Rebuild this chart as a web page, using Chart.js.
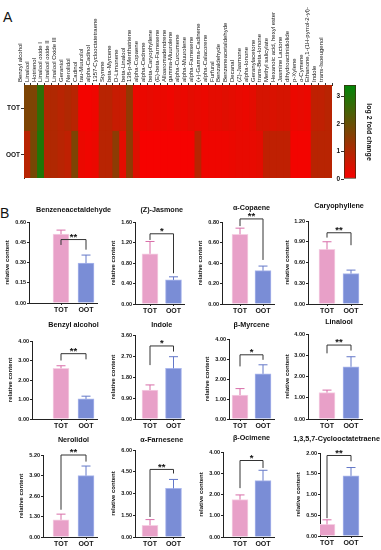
<!DOCTYPE html>
<html lang="en">
<head>
<meta charset="UTF-8">
<title>Volatiles TOT vs OOT</title>
<style>
  body { margin: 0; background: #fff; font-family: Arial, "Liberation Sans", sans-serif; }
  #wrap { position: relative; width: 381px; height: 550px; overflow: hidden; }
  .box { position: absolute; }
  .panel { position: absolute; font-size: 14px; color: #111; line-height: 14px; }
</style>
</head>
<body>
<div id="wrap">
  <div class="panel" style="left:3px;top:10px">A</div>
  <div class="panel" style="left:0px;top:206px">B</div>
  <div class="box" style="left:0;top:0;width:340px;height:186px"><canvas id="heat"></canvas></div>
  <div class="box" style="left:330px;top:70px;width:51px;height:122px"><canvas id="scale"></canvas></div>
</div>
<script src="https://cdn.jsdelivr.net/npm/chart.js"></script>
<script>
// heatmap: log2 fold change per compound
const compounds = ["Benzyl alcohol","Linalool","Hotrienol","Linalool oxide I","Linalool oxide II","Linalool Oxide III",
  "Geraniol","Nerolidol","Cadinol","tau-Muurolol","alpha-Cadinol","1357-Cyclooctatetraene","Styrene","beta-Myrcene",
  "D-Limonene","beta-Linalool","138-p-Menthatriene","alpha-Copaene","alpha-Cedrene","beta-Caryophyllene",
  "(E)-beta-Farnesene","Alloaromadendrene","gamma-Muurolene","alpha-Curcumene","alpha-Muurolene","alpha-Farnesene",
  "(+)-Gamma-Cadinene","alpha-Calacorene","Furfural","Benzaldehyde","Benzeneacetaldehyde","Decanal","(Z)-Jasmone",
  "alpha-Ionone","Geranylacetone","trans-Beta-Ionone","Methyl salicylate","Hexanoic acid, hexyl ester",
  "Jasmine Lactone","dihydroactinidiolide","p-Xylene","o-Cymene","Ethanone,1-(1H-pyrrol-2-yl)-","Indole","trans-Isoeugenol"];
const totFold = [1.7,1.7,2.8,1.0,1.0,0.9,1.0,0.9,0.1,0.1,0.15,0.9,0.9,0.7,0.7,1.4,0.2,0.2,0.25,0.2,0.2,0.15,0.25,0.2,0.3,
  0.25,0.2,0.3,0.3,0.35,0.3,0.25,0.2,0.3,0.5,0.5,0.45,0.5,0.5,0.2,0.25,0.2,0.8,0.8,0.9];
const ootFold = [0.9,1.8,3.0,1.0,1.0,0.9,0.8,1.7,0.2,0.15,0.2,0.9,0.9,1.5,0.3,1.5,0.4,0.05,0.05,0.05,0.05,0.05,0.05,0.05,0.05,
  0.9,0.15,0.15,0.15,0.15,0.2,0.25,0.25,0.25,0.3,0.8,0.8,0.8,0.8,0.1,0.1,0.1,0.9,0.9,0.9];
const rows = ['OOT', 'TOT'];
const foldTicks = [0, 1, 2, 3];
const foldMax = 3.4;

// panel B
const groups = ['TOT', 'OOT'];
const titles = ['Benzeneacetaldehyde','(Z)-Jasmone','α-Copaene','Caryophyllene','Benzyl alcohol','Indole',
  'β-Myrcene','Linalool','Nerolidol','α-Farnesene','β-Ocimene','1,3,5,7-Cyclooctatetraene'];
const yMax     = [0.6, 1.6, 0.8, 1.2, 4, 3.6, 4, 4, 5.2, 6, 4, 2];
const totMean  = [0.51, 0.98, 0.68, 0.79, 2.6, 1.24, 1.2, 1.24, 1.09, 0.81, 1.76, 0.28];
const totUpper = [0.54, 1.22, 0.74, 0.90, 2.73, 1.46, 1.52, 1.36, 1.45, 1.2, 1.98, 0.39];
const ootMean  = [0.295, 0.47, 0.325, 0.44, 1.03, 2.17, 2.26, 2.46, 3.89, 3.35, 2.65, 1.45];
const ootUpper = [0.355, 0.53, 0.37, 0.49, 1.17, 2.67, 2.71, 2.93, 4.5, 3.97, 3.14, 1.65];
const bracket  = [0.47, 1.37, 0.83, 1.03, 3.35, 3.13, 3.21, 3.48, 5.2, 4.66, 3.6, 1.94];
const legLeft  = [0.43, 1.25, 0.76, 0.96, 3.0, 2.31, 2.63, 3.09, 1.73, 1.38, 2.3, 0.43];
const legRight = [0.395, 0.6, 0.43, 0.85, 3.06, 2.89, 2.96, 3.22, 4.78, 4.38, 3.25, 1.8];
const stars    = ['**','*','**','**','**','*','*','**','**','**','*','**'];

const FONT = 'Arial, "Liberation Sans", sans-serif';
Chart.defaults.font.family = FONT;
Chart.defaults.color = '#111';

function foldColor(v) {
  const t = Math.max(0, Math.min(1, v / foldMax));
  return 'rgb(' + Math.round(250 * (1 - t)) + ',' + Math.round(135 * t) + ',' + Math.round(8 * t) + ')';
}

new Chart(document.getElementById('heat'), {
  type: 'bar',
  data: {
    labels: compounds,
    datasets: [
      { label: 'OOT', data: ootFold.map(() => 1), backgroundColor: ootFold.map(foldColor) },
      { label: 'TOT', data: totFold.map(() => 1), backgroundColor: totFold.map(foldColor) }
    ]
  },
  options: {
    responsive: true, maintainAspectRatio: false, animation: false,
    layout: { padding: { right: 8, bottom: 8 } },
    datasets: { bar: { barPercentage: 1, categoryPercentage: 1, borderWidth: 0, inflateAmount: 0.6 } },
    plugins: { legend: { display: false }, tooltip: { enabled: false } },
    scales: {
      x: {
        position: 'top', stacked: true,
        grid: { drawOnChartArea: false, tickLength: 2, color: '#333' },
        border: { color: '#4a2a10' },
        ticks: { autoSkip: false, minRotation: 90, maxRotation: 90, padding: 1, font: { size: 6 } },
        afterFit: s => { s.height = 85; }
      },
      y: {
        stacked: true, min: 0, max: 2,
        grid: { drawOnChartArea: false, tickLength: 3, color: '#333' },
        border: { color: '#4a2a10' },
        afterBuildTicks: s => { s.ticks = [{ value: 0.5 }, { value: 1.5 }]; },
        ticks: { callback: v => rows[Math.floor(v)], padding: 1, font: { size: 6.5, weight: 'bold' } },
        afterFit: s => { s.width = 24; }
      }
    }
  }
});

new Chart(document.getElementById('scale'), {
  type: 'bar',
  data: {
    labels: [''],
    datasets: [{
      data: [[0, foldMax]],
      backgroundColor: c => {
        const a = c.chart.chartArea;
        if (!a) return 'red';
        const g = c.chart.ctx.createLinearGradient(0, a.bottom, 0, a.top);
        for (let k = 0; k <= 10; k++) g.addColorStop(k / 10, foldColor(foldMax * k / 10));
        return g;
      },
      borderWidth: 1, borderColor: '#3a2a10', borderSkipped: false,
      barPercentage: 1, categoryPercentage: 1
    }]
  },
  options: {
    responsive: true, maintainAspectRatio: false, animation: false,
    layout: { padding: { top: 15, bottom: 13, right: 7 } },
    plugins: { legend: { display: false }, tooltip: { enabled: false } },
    scales: {
      x: { display: false },
      y: {
        min: 0, max: foldMax,
        grid: { drawOnChartArea: false, tickLength: 3, color: '#333' },
        border: { display: false },
        afterBuildTicks: s => { s.ticks = foldTicks.map(v => ({ value: v })); },
        ticks: { padding: 1, font: { size: 6.5, weight: 'bold' } },
        afterFit: s => { s.width = 14; }
      },
      y2: {
        position: 'right', min: 0, max: 1,
        grid: { display: false }, border: { display: false },
        ticks: { display: false },
        title: { display: true, text: 'log 2 fold change', font: { size: 7, weight: 'bold' }, padding: 1 },
        afterFit: s => { s.width = 18; }
      }
    }
  }
});

// error bars, significance bracket, group labels and title on each small panel
const annotate = {
  id: 'annotate',
  afterDatasetsDraw(chart, args, o) {
    const { ctx, scales: { x, y } } = chart;
    const x1 = x.getPixelForValue(1), x2 = x.getPixelForValue(2);
    ctx.save();
    ctx.lineWidth = 1;
    o.upper.forEach((u, k) => {
      const px = x.getPixelForValue(k + 1);
      const top = y.getPixelForValue(u), base = y.getPixelForValue(o.mean[k]);
      ctx.strokeStyle = o.errColor[k];
      ctx.beginPath();
      ctx.moveTo(px, base); ctx.lineTo(px, top);
      ctx.moveTo(px - 4.5, top); ctx.lineTo(px + 4.5, top);
      ctx.stroke();
    });
    const yb = y.getPixelForValue(o.bracket);
    ctx.strokeStyle = '#333';
    ctx.beginPath();
    ctx.moveTo(x1, y.getPixelForValue(o.legs[0]));
    ctx.lineTo(x1, yb); ctx.lineTo(x2, yb);
    ctx.lineTo(x2, y.getPixelForValue(o.legs[1]));
    ctx.stroke();
    ctx.fillStyle = '#111';
    ctx.textAlign = 'center';
    ctx.textBaseline = 'bottom';
    ctx.font = 'bold 9.5px ' + FONT;
    ctx.fillText(o.stars, (x1 + x2) / 2, yb + 2.5);
    ctx.textBaseline = 'top';
    ctx.font = 'bold 7px ' + FONT;
    groups.forEach((g, k) => ctx.fillText(g, x.getPixelForValue(k + 1), y.bottom + 4));
    ctx.textBaseline = 'middle';
    ctx.font = 'bold 7.2px ' + FONT;
    const tw = ctx.measureText(o.title).width;
    const cx = Math.min((x1 + x2) / 2, chart.width - tw / 2 - 1);
    ctx.fillText(o.title, cx, o.titleY);
    ctx.restore();
  }
};

const colLeft = [0, 97, 188, 283], colWidth = [115, 110, 112, 98];
const rowTop = [198, 316, 430], rowHeight = [122, 120, 120];
const barCenters = [[61, 86], [150, 173.5], [240, 263], [327, 351]];
const axisX = [29, 135, 222, 308, 32, 135, 229, 308, 43, 135, 223, 320];
const plotTop = [222, 222, 222, 221, 341, 335, 339, 334, 455, 450, 452, 453];
const plotBottom = [303, 304, 304, 304, 419, 419, 419, 419, 537, 537, 537, 536];
const titleY = [210, 210, 208, 206, 325, 325, 325, 322, 440, 440, 438, 439];

const pink = '#e8a0c8', blue = '#7a8dd6';
const wrap = document.getElementById('wrap');

titles.forEach((title, i) => {
  const r = Math.floor(i / 4), c = i % 4;
  const L = colLeft[c], T = rowTop[r], W = colWidth[c], H = rowHeight[r];
  const [c1, c2] = barCenters[c];
  const u = c2 - c1, rightEdge = c2 + 11;
  const yw = axisX[i] - L;
  const div = document.createElement('div');
  div.className = 'box';
  div.style.cssText = `left:${L}px;top:${T}px;width:${W}px;height:${H}px`;
  const cv = document.createElement('canvas');
  div.appendChild(cv);
  wrap.appendChild(div);

  new Chart(cv, {
    type: 'bar',
    data: {
      datasets: [{
        data: [{ x: 1, y: totMean[i] }, { x: 2, y: ootMean[i] }],
        backgroundColor: [pink, blue],
        borderColor: ['#f5cfe3', '#aab6ec'],
        borderWidth: 1, borderSkipped: 'bottom',
        barThickness: 16
      }]
    },
    options: {
      responsive: true, maintainAspectRatio: false, animation: false,
      layout: { padding: { top: plotTop[i] - T, right: L + W - rightEdge, left: 0, bottom: 0 } },
      plugins: {
        legend: { display: false }, tooltip: { enabled: false },
        annotate: {
          title, titleY: titleY[i] - T, stars: stars[i],
          mean: [totMean[i], ootMean[i]], upper: [totUpper[i], ootUpper[i]],
          errColor: ['#d86ea8', '#6478c8'],
          bracket: bracket[i], legs: [legLeft[i], legRight[i]]
        }
      },
      scales: {
        x: {
          type: 'linear', offset: false,
          min: 1 - (c1 - axisX[i]) / u, max: 2 + (rightEdge - c2) / u,
          grid: { drawOnChartArea: false, tickLength: 2, color: '#222', offset: false },
          border: { color: '#222', width: 1 },
          afterBuildTicks: s => { s.ticks = [{ value: 1 }, { value: 2 }]; },
          ticks: { display: false },
          afterFit: s => { s.height = T + H - plotBottom[i]; }
        },
        y: {
          min: 0, max: yMax[i],
          grid: { drawOnChartArea: false, tickLength: 2, color: '#222' },
          border: { color: '#222', width: 1 },
          afterBuildTicks: s => { s.ticks = [0, 1, 2, 3, 4].map(k => ({ value: yMax[i] * k / 4 })); },
          ticks: { callback: v => v.toFixed(2), padding: 1, font: { size: 5.5, weight: 'bold' } },
          title: { display: true, text: 'relative content', font: { size: 6, weight: 'bold' },
                   padding: { top: Math.max(1, yw - 25), bottom: 0 } },
          afterFit: s => { s.width = yw; }
        }
      }
    },
    plugins: [annotate]
  });
});
</script>
</body>
</html>
